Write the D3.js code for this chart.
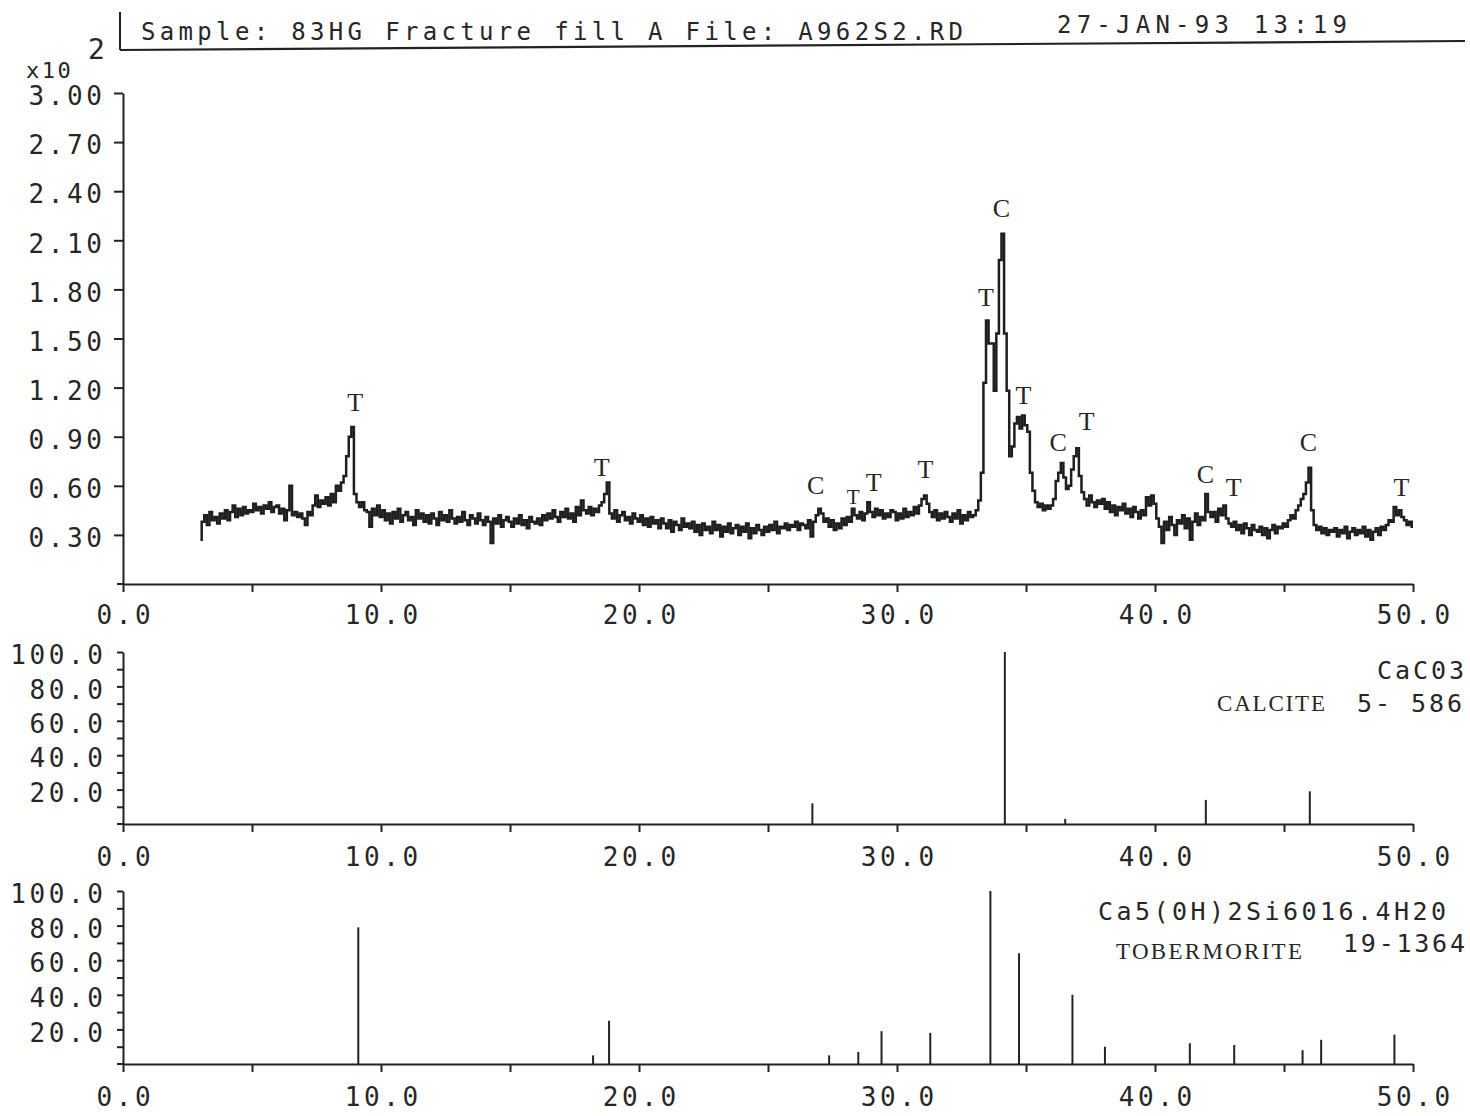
<!DOCTYPE html>
<html>
<head>
<meta charset="utf-8">
<script src="https://cdn.jsdelivr.net/npm/d3@7"></script>
<style>
  body { margin: 0; background: #fff; }
  svg text { font-family: "DejaVu Sans Mono", monospace; fill: #262626; }
  svg text.serif { font-family: "Liberation Serif", "Times New Roman", serif; }
</style>
</head>
<body>
<svg id="chart" width="1470" height="1116"></svg>
<script>
// ---- Measured scan: counts at 2-theta from 3.0 to 50.0, step 0.1 ----
const scanStart = 3.0;
const scanStep = 0.1;
const scanCounts = [
  27,38,42,36,44,39,41,37,43,40,   // 3
  45,39,44,48,41,46,42,47,43,45,   // 4
  44,49,45,47,43,48,46,50,44,47,   // 5
  48,43,46,39,45,60,42,44,41,43,   // 6
  40,36,44,42,48,54,47,51,49,53,   // 7
  48,55,50,60,57,62,66,78,90,96,   // 8
  55,50,47,50,45,44,35,46,42,48,   // 9
  41,45,39,43,37,44,40,46,38,42,   // 10
  44,39,41,36,45,40,43,38,42,37,   // 11
  43,40,36,44,39,42,38,45,40,37,   // 12
  41,38,44,39,36,42,40,37,43,39,   // 13
  36,41,38,25,40,37,42,35,39,41,   // 14
  38,35,40,37,42,36,39,34,41,38,   // 15
  37,40,36,42,39,43,40,45,41,38,   // 16
  44,41,46,40,43,38,47,42,51,45,   // 17
  43,47,42,46,44,48,50,55,62,43,   // 18
  40,45,38,42,44,39,41,37,43,40,   // 19
  38,42,36,40,35,41,37,39,34,40,   // 20
  37,34,39,32,38,36,33,40,35,37,   // 21
  34,38,32,36,30,37,33,35,31,38,   // 22
  33,36,29,35,32,37,31,34,36,30,   // 23
  35,32,37,28,34,31,36,33,30,35,   // 24
  32,36,33,38,31,35,34,37,33,36,   // 25
  35,38,33,37,36,34,39,29,38,42,   // 26
  46,43,38,40,35,39,33,37,34,40,   // 27
  36,41,38,46,42,40,44,39,43,50,   // 28
  44,41,46,42,45,40,43,41,45,44,   // 29
  39,43,40,46,41,44,42,47,43,48,   // 30
  52,54,49,44,41,45,39,43,40,44,   // 31
  41,38,43,40,45,37,42,39,44,41,   // 32
  42,45,51,68,123,161,147,147,118,153, // 33
  198,214,153,118,78,84,98,102,95,103, // 34
  97,93,68,57,50,47,49,45,48,46,   // 35
  48,52,63,68,74,65,58,60,70,78,   // 36
  83,66,56,52,48,54,50,47,51,49,   // 37
  52,46,50,44,48,42,47,45,49,43,   // 38
  46,41,47,44,40,45,42,53,48,54,   // 39
  49,40,35,25,38,33,41,36,30,39,   // 40
  37,42,34,40,27,38,43,36,41,39,   // 41
  55,44,41,44,38,46,42,48,40,37,   // 42
  35,38,33,36,31,37,34,30,36,33,   // 43
  32,35,30,34,28,33,36,31,35,34,   // 44
  37,35,39,42,40,45,48,52,55,62,   // 45
  71,45,36,33,35,31,34,30,33,32,   // 46
  34,29,33,31,35,28,32,34,30,33,   // 47
  31,35,29,33,27,32,34,30,35,33,   // 48
  36,39,38,47,42,45,41,39,36,38,   // 49
  35                               // 50
];

// Phase identification marks above the scan (T = tobermorite, C = calcite)
const markPhase = ["T","T","C","T","T","T","T","C","T","C","T","C","T","C","T"];
const mark2Theta = [9.0, 18.55, 26.85, 28.3, 29.1, 31.1, 33.45, 34.05, 34.9, 36.25, 37.35, 41.95, 43.05, 45.95, 49.55];
const markLevel = [106, 66, 55, 49, 57, 65, 170, 224, 110, 81, 94, 62, 54, 81, 54];

// Reference pattern: CaCO3, calcite, card 5-586
const calcite2Theta = [26.72, 34.18, 36.52, 41.97, 46.0];
const calciteIntensity = [12, 100, 3, 14, 19];

// Reference pattern: Ca5(OH)2Si6O16.4H2O, tobermorite, card 19-1364
const tober2Theta = [9.12, 18.22, 18.84, 27.37, 28.5, 29.4, 31.29, 33.62, 34.73, 36.8, 38.06, 41.35, 43.07, 45.72, 46.44, 49.28];
const toberIntensity = [79, 5, 25, 5, 7, 19, 18, 100, 64, 40, 10, 12, 11, 8, 14, 17];

// Axis ticks
const xTickValues = [0, 5, 10, 15, 20, 25, 30, 35, 40, 45, 50];
const scanYTicks = [30, 60, 90, 120, 150, 180, 210, 240, 270, 300];
const refYTicks = [10, 20, 30, 40, 50, 60, 70, 80, 90, 100];

// ---- Drawing ----
const svg = d3.select("#chart");
const ink = "#222";

const x = d3.scaleLinear().domain([0, 50]).range([123, 1413]);
const yScan = d3.scaleLinear().domain([0, 300]).range([584, 93]);
const yCal = d3.scaleLinear().domain([0, 100]).range([824, 652]);
const yTob = d3.scaleLinear().domain([0, 100]).range([1064, 891]);

const tickFont = 26, tickSpacing = 3.6;

function styleAxis(g) {
  g.select(".domain").attr("stroke", ink).attr("stroke-width", 2);
  g.selectAll(".tick line").attr("stroke", ink).attr("stroke-width", 2);
  g.selectAll(".tick text")
    .attr("font-size", tickFont)
    .attr("letter-spacing", tickSpacing)
    .attr("font-family", "DejaVu Sans Mono, monospace")
    .attr("fill", "#262626");
}

function xAxisAt(yPos, labelPad) {
  const ax = d3.axisBottom(x)
    .tickValues(xTickValues)
    .tickSize(8)
    .tickSizeOuter(0)
    .tickPadding(labelPad)
    .tickFormat(d => d % 10 === 0 ? d.toFixed(1) : "");
  const g = svg.append("g").attr("transform", `translate(0,${yPos})`).call(ax);
  styleAxis(g);
  // axis line runs slightly past the y axis on the left
  g.append("line").attr("x1", 117).attr("x2", x(0)).attr("y1", 0).attr("y2", 0)
    .attr("stroke", ink).attr("stroke-width", 2);
  g.selectAll(".tick text").attr("dx", tickSpacing / 2);
  return g;
}

function yAxisAt(scale, ticks, fmt, size, labelPad) {
  const ax = d3.axisLeft(scale)
    .tickValues(ticks)
    .tickSize(size)
    .tickSizeOuter(0)
    .tickPadding(labelPad)
    .tickFormat(fmt);
  const g = svg.append("g").attr("transform", `translate(${x(0)},0)`).call(ax);
  styleAxis(g);
  g.selectAll(".tick text").attr("dx", tickSpacing).attr("dy", "0.45em");
  return g;
}

// -- Header --
svg.append("line").attr("x1", 120).attr("x2", 120).attr("y1", 12).attr("y2", 50)
  .attr("stroke", ink).attr("stroke-width", 2);
svg.append("line").attr("x1", 120).attr("x2", 1465).attr("y1", 50).attr("y2", 41)
  .attr("stroke", ink).attr("stroke-width", 2.2);
svg.append("text").attr("x", 141).attr("y", 40).attr("font-size", 24)
  .attr("textLength", 822).attr("lengthAdjust", "spacing")
  .text("Sample: 83HG Fracture fill A  File: A962S2.RD");
svg.append("text").attr("x", 1057).attr("y", 33).attr("font-size", 24)
  .attr("textLength", 290).attr("lengthAdjust", "spacing")
  .text("27-JAN-93  13:19");

// -- Scan panel --
svg.append("text").attr("x", 26).attr("y", 78).attr("font-size", 22)
  .attr("letter-spacing", 2.5).text("x10");
svg.append("text").attr("x", 88).attr("y", 59).attr("font-size", 28).text("2");

xAxisAt(yScan(0), 14);
yAxisAt(yScan, scanYTicks, d => (d / 100).toFixed(2), 9, 12);

const scanPoints = scanCounts.map((c, i) => ({ t: scanStart + i * scanStep, c }));
const scanLine = d3.line().x(d => x(d.t)).y(d => yScan(d.c)).curve(d3.curveStep);
svg.append("path").datum(scanPoints).attr("d", scanLine)
  .attr("fill", "none").attr("stroke", "#1e1e1e").attr("stroke-width", 2.5)
  .attr("stroke-linejoin", "miter");

svg.append("g").selectAll("text").data(markPhase).join("text")
  .attr("class", "serif")
  .attr("x", (d, i) => x(mark2Theta[i]))
  .attr("y", (d, i) => yScan(markLevel[i]))
  .attr("text-anchor", "middle")
  .attr("font-size", (d, i) => i === 3 ? 21 : 26)
  .text(d => d);

// -- Calcite reference panel --
xAxisAt(yCal(0), 16);
yAxisAt(yCal, refYTicks, d => d % 20 === 0 ? d.toFixed(1) : "", 6, 14);
svg.append("g").selectAll("line").data(calcite2Theta).join("line")
  .attr("x1", d => x(d)).attr("x2", d => x(d))
  .attr("y1", yCal(0)).attr("y2", (d, i) => yCal(calciteIntensity[i]))
  .attr("stroke", ink).attr("stroke-width", 2);
svg.append("text").attr("x", 1377).attr("y", 679).attr("font-size", 25)
  .attr("textLength", 87).attr("lengthAdjust", "spacing").text("CaC03");
svg.append("text").attr("class", "serif").attr("x", 1217).attr("y", 711).attr("font-size", 23)
  .attr("textLength", 108).attr("lengthAdjust", "spacing").text("CALCITE");
svg.append("text").attr("x", 1357).attr("y", 712).attr("font-size", 25)
  .attr("textLength", 105).attr("lengthAdjust", "spacing").text("5- 586");

// -- Tobermorite reference panel --
xAxisAt(yTob(0), 16);
yAxisAt(yTob, refYTicks, d => d % 20 === 0 ? d.toFixed(1) : "", 6, 14);
svg.append("g").selectAll("line").data(tober2Theta).join("line")
  .attr("x1", d => x(d)).attr("x2", d => x(d))
  .attr("y1", yTob(0)).attr("y2", (d, i) => yTob(toberIntensity[i]))
  .attr("stroke", ink).attr("stroke-width", 2);
svg.append("text").attr("x", 1098).attr("y", 920).attr("font-size", 25)
  .attr("textLength", 348).attr("lengthAdjust", "spacing").text("Ca5(0H)2Si6016.4H20");
svg.append("text").attr("class", "serif").attr("x", 1116).attr("y", 959).attr("font-size", 23)
  .attr("textLength", 186).attr("lengthAdjust", "spacing").text("TOBERMORITE");
svg.append("text").attr("x", 1343).attr("y", 952).attr("font-size", 25)
  .attr("textLength", 122).attr("lengthAdjust", "spacing").text("19-1364");
</script>
</body>
</html>
